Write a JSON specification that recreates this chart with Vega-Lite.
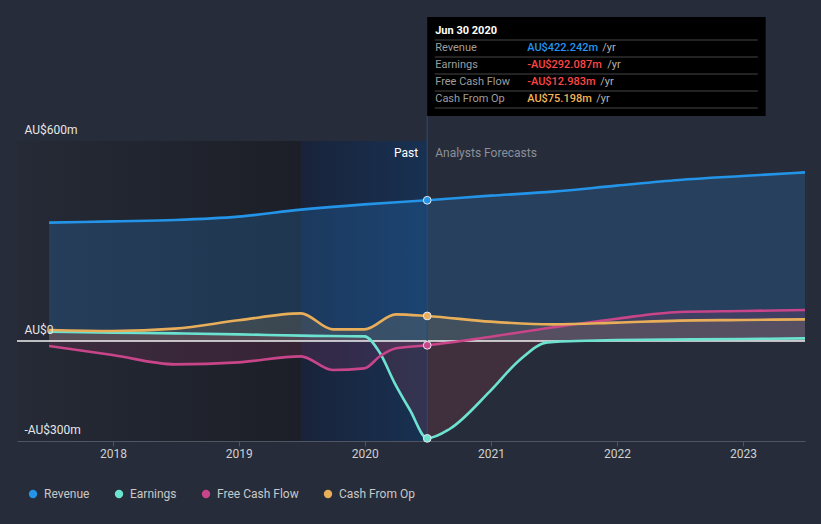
{
  "$schema": "https://vega.github.io/schema/vega-lite/v6.json",
  "width": 788,
  "height": 300,
  "autosize": {"type": "none"},
  "padding": {"left": 17, "top": 141, "right": 16, "bottom": 83},
  "background": "#262c39",
  "config": {
    "font": "Roboto",
    "view": {"stroke": null},
    "axis": {"labelFont": "Roboto", "titleFont": "Roboto"},
    "legend": {"labelFont": "Roboto"}
  },
  "datasets": {
    "series": [
      {"date": "2017-06-30", "series": "Revenue", "value": 355},
      {"date": "2017-12-31", "series": "Revenue", "value": 359},
      {"date": "2018-06-30", "series": "Revenue", "value": 363},
      {"date": "2018-12-31", "series": "Revenue", "value": 373},
      {"date": "2019-06-30", "series": "Revenue", "value": 394},
      {"date": "2019-12-31", "series": "Revenue", "value": 410},
      {"date": "2020-06-30", "series": "Revenue", "value": 422.242},
      {"date": "2020-12-31", "series": "Revenue", "value": 436},
      {"date": "2021-06-30", "series": "Revenue", "value": 448},
      {"date": "2021-12-31", "series": "Revenue", "value": 466},
      {"date": "2022-06-30", "series": "Revenue", "value": 483},
      {"date": "2022-12-31", "series": "Revenue", "value": 495},
      {"date": "2023-06-30", "series": "Revenue", "value": 506},

      {"date": "2017-06-30", "series": "Earnings", "value": 28},
      {"date": "2017-12-31", "series": "Earnings", "value": 25},
      {"date": "2018-06-30", "series": "Earnings", "value": 23},
      {"date": "2018-12-31", "series": "Earnings", "value": 20},
      {"date": "2019-06-30", "series": "Earnings", "value": 16},
      {"date": "2019-12-31", "series": "Earnings", "value": 14},
      {"date": "2020-02-14", "series": "Earnings", "value": -36},
      {"date": "2020-03-28", "series": "Earnings", "value": -127},
      {"date": "2020-05-11", "series": "Earnings", "value": -207},
      {"date": "2020-06-30", "series": "Earnings", "value": -292.087},
      {"date": "2020-09-03", "series": "Earnings", "value": -264},
      {"date": "2020-12-28", "series": "Earnings", "value": -152},
      {"date": "2021-03-25", "series": "Earnings", "value": -57},
      {"date": "2021-06-14", "series": "Earnings", "value": -4},
      {"date": "2021-12-31", "series": "Earnings", "value": 3},
      {"date": "2022-12-31", "series": "Earnings", "value": 6},
      {"date": "2023-06-30", "series": "Earnings", "value": 8},

      {"date": "2017-06-30", "series": "Free Cash Flow", "value": -15},
      {"date": "2017-12-31", "series": "Free Cash Flow", "value": -42},
      {"date": "2018-06-30", "series": "Free Cash Flow", "value": -70},
      {"date": "2018-12-31", "series": "Free Cash Flow", "value": -64},
      {"date": "2019-06-30", "series": "Free Cash Flow", "value": -46},
      {"date": "2019-09-30", "series": "Free Cash Flow", "value": -87},
      {"date": "2019-12-31", "series": "Free Cash Flow", "value": -82},
      {"date": "2020-02-15", "series": "Free Cash Flow", "value": -45},
      {"date": "2020-04-01", "series": "Free Cash Flow", "value": -22},
      {"date": "2020-06-30", "series": "Free Cash Flow", "value": -12.983},
      {"date": "2020-12-31", "series": "Free Cash Flow", "value": 13},
      {"date": "2021-06-30", "series": "Free Cash Flow", "value": 41},
      {"date": "2021-12-31", "series": "Free Cash Flow", "value": 67},
      {"date": "2022-06-30", "series": "Free Cash Flow", "value": 87},
      {"date": "2022-12-31", "series": "Free Cash Flow", "value": 90},
      {"date": "2023-06-30", "series": "Free Cash Flow", "value": 93},

      {"date": "2017-06-30", "series": "Cash From Op", "value": 33},
      {"date": "2017-12-31", "series": "Cash From Op", "value": 30},
      {"date": "2018-06-30", "series": "Cash From Op", "value": 37},
      {"date": "2018-12-31", "series": "Cash From Op", "value": 62},
      {"date": "2019-06-30", "series": "Cash From Op", "value": 83},
      {"date": "2019-09-30", "series": "Cash From Op", "value": 35},
      {"date": "2019-12-31", "series": "Cash From Op", "value": 35},
      {"date": "2020-03-31", "series": "Cash From Op", "value": 80},
      {"date": "2020-06-30", "series": "Cash From Op", "value": 75.198},
      {"date": "2020-12-31", "series": "Cash From Op", "value": 58},
      {"date": "2021-06-30", "series": "Cash From Op", "value": 50},
      {"date": "2021-12-31", "series": "Cash From Op", "value": 55},
      {"date": "2022-06-30", "series": "Cash From Op", "value": 61},
      {"date": "2022-12-31", "series": "Cash From Op", "value": 63},
      {"date": "2023-06-30", "series": "Cash From Op", "value": 65}
    ],
    "current": [
      {"date": "2020-06-30", "series": "Revenue", "value": 422.242},
      {"date": "2020-06-30", "series": "Earnings", "value": -292.087},
      {"date": "2020-06-30", "series": "Free Cash Flow", "value": -12.983},
      {"date": "2020-06-30", "series": "Cash From Op", "value": 75.198}
    ]
  },
  "layer": [
    {
      "data": {"values": [{}]},
      "mark": {"type": "rect", "color": {"gradient": "linear", "x1": 0, "x2": 1, "y1": 0, "y2": 0, "stops": [{"offset": 0, "color": "#252a36"}, {"offset": 1, "color": "#1c1f27"}]}},
      "encoding": {
        "x": {"datum": {"year": 2017, "month": 3, "date": 29, "utc": true}, "type": "temporal",
              "scale": {"type": "utc", "domain": [{"year": 2017, "month": 3, "date": 29, "utc": true}, {"year": 2023, "month": 6, "date": 30, "utc": true}]},
              "axis": {"values": [{"year": 2018, "month": 1, "date": 1, "utc": true}, {"year": 2019, "month": 1, "date": 1, "utc": true}, {"year": 2020, "month": 1, "date": 1, "utc": true}, {"year": 2021, "month": 1, "date": 1, "utc": true}, {"year": 2022, "month": 1, "date": 1, "utc": true}, {"year": 2023, "month": 1, "date": 1, "utc": true}],
                       "format": "%Y", "title": null, "grid": false, "domainColor": "#4f5562", "tickColor": "#4f5562", "tickSize": 5, "labelColor": "#d0d0d0", "labelFontSize": 12, "labelPadding": 2}},
        "x2": {"datum": {"year": 2019, "month": 6, "date": 30, "utc": true}},
        "y": {"datum": 600, "type": "quantitative",
              "scale": {"domain": [-300, 600], "nice": false, "zero": false},
              "axis": {"values": [-300, -200, 0, 200, 400, 600], "title": null, "domain": false, "ticks": false,
                       "labelExpr": "datum.value == 600 ? 'AU$600m' : datum.value == 0 ? 'AU$0' : datum.value == -300 ? '-AU$300m' : ''",
                       "labelAlign": "left", "labelBaseline": "bottom", "labelPadding": -7, "labelOffset": -5,
                       "labelColor": "#e6e6e6", "labelFontSize": 12,
                       "gridColor": {"condition": {"test": "datum.value == 600", "value": "#4b505b"}, "value": "#323845"},
                       "gridOpacity": {"condition": {"test": "datum.value == 0", "value": 0}, "value": 1},
                       "zindex": 1}},
        "y2": {"datum": -300}
      }
    },
    {
      "data": {"values": [{}]},
      "mark": {"type": "rect", "color": {"gradient": "linear", "x1": 0, "x2": 1, "y1": 0, "y2": 0, "stops": [{"offset": 0, "color": "#19233a"}, {"offset": 1, "color": "#183152"}]}},
      "encoding": {
        "x": {"datum": {"year": 2019, "month": 6, "date": 30, "utc": true}, "type": "temporal"},
        "x2": {"datum": {"year": 2020, "month": 6, "date": 30, "utc": true}},
        "y": {"datum": 600, "type": "quantitative"},
        "y2": {"datum": -300}
      }
    },
    {
      "data": {"name": "series"},
      "transform": [{"filter": "datum.series == 'Revenue'"}],
      "mark": {"type": "area", "interpolate": "monotone", "color": "#2a8ee8", "fillOpacity": 0.21},
      "encoding": {
        "x": {"field": "date", "type": "temporal"},
        "y": {"field": "value", "type": "quantitative", "stack": null},
        "y2": {"datum": 0}
      }
    },
    {
      "data": {"name": "series"},
      "transform": [{"filter": "datum.series == 'Earnings'"}],
      "mark": {"type": "area", "interpolate": "monotone", "color": "#d8485a", "fillOpacity": 0.15},
      "encoding": {
        "x": {"field": "date", "type": "temporal"},
        "y": {"field": "value", "type": "quantitative", "stack": null},
        "y2": {"datum": 0}
      }
    },
    {
      "data": {"name": "series"},
      "transform": [{"filter": "datum.series == 'Free Cash Flow'"}],
      "mark": {"type": "area", "interpolate": "monotone", "color": "#c2407f", "fillOpacity": 0.16},
      "encoding": {
        "x": {"field": "date", "type": "temporal"},
        "y": {"field": "value", "type": "quantitative", "stack": null},
        "y2": {"datum": 0}
      }
    },
    {
      "data": {"name": "series"},
      "transform": [{"filter": "datum.series == 'Cash From Op'"}],
      "mark": {"type": "area", "interpolate": "monotone", "color": "#e8ae5b", "fillOpacity": 0.14},
      "encoding": {
        "x": {"field": "date", "type": "temporal"},
        "y": {"field": "value", "type": "quantitative", "stack": null},
        "y2": {"datum": 0}
      }
    },
    {
      "data": {"values": [{}]},
      "mark": {"type": "rule", "color": "#f0f0f0", "strokeWidth": 1.3},
      "encoding": {"y": {"datum": 0, "type": "quantitative"}}
    },
    {
      "data": {"values": [{}]},
      "mark": {"type": "rule", "color": "#2c4a72", "strokeWidth": 1},
      "encoding": {
        "x": {"datum": {"year": 2020, "month": 6, "date": 30, "utc": true}, "type": "temporal"},
        "y": {"datum": 675, "type": "quantitative"},
        "y2": {"datum": -300}
      }
    },
    {
      "data": {"name": "series"},
      "mark": {"type": "line", "interpolate": "monotone", "strokeWidth": 2.6},
      "encoding": {
        "x": {"field": "date", "type": "temporal"},
        "y": {"field": "value", "type": "quantitative"},
        "color": {"field": "series", "type": "nominal",
                  "scale": {"domain": ["Revenue", "Earnings", "Free Cash Flow", "Cash From Op"], "range": ["#2394e8", "#6be3d0", "#c8458a", "#e9ae5a"]},
                  "legend": {"title": null, "orient": "none", "legendX": 10, "legendY": 347, "direction": "horizontal", "columns": 4,
                             "columnPadding": 23, "symbolType": "circle", "symbolSize": 70, "labelOffset": 5, "labelFontSize": 12,
                             "labelColor": "#c8c8c8", "padding": 0,
                             "symbolFillColor": "#888888", "symbolStrokeWidth": 0,
                             "encode": {"symbols": {"update": {"fill": {"scale": "color", "field": "value"}, "opacity": {"value": 1}}}}}}
      }
    },
    {
      "data": {"name": "current"},
      "mark": {"type": "point", "filled": true, "size": 60, "stroke": "#e8e8f0", "strokeWidth": 1, "opacity": 1},
      "encoding": {
        "x": {"field": "date", "type": "temporal"},
        "y": {"field": "value", "type": "quantitative"},
        "color": {"field": "series", "type": "nominal"}
      }
    },
    {
      "data": {"values": [{}]},
      "mark": {"type": "text", "text": "Past", "align": "right", "baseline": "middle", "dx": -9, "color": "#ffffff", "fontSize": 12},
      "encoding": {
        "x": {"datum": {"year": 2020, "month": 6, "date": 30, "utc": true}, "type": "temporal"},
        "y": {"datum": 564, "type": "quantitative"}
      }
    },
    {
      "data": {"values": [{}]},
      "mark": {"type": "text", "text": "Analysts Forecasts", "align": "left", "baseline": "middle", "dx": 8, "color": "#8b909a", "fontSize": 12},
      "encoding": {
        "x": {"datum": {"year": 2020, "month": 6, "date": 30, "utc": true}, "type": "temporal"},
        "y": {"datum": 564, "type": "quantitative"}
      }
    },
    {
      "data": {"values": [{}]},
      "mark": {"type": "rect", "color": "#000000"},
      "encoding": {
        "x": {"datum": {"year": 2020, "month": 6, "date": 30, "utc": true}, "type": "temporal"},
        "x2": {"datum": {"year": 2023, "month": 3, "date": 8, "utc": true}},
        "y": {"datum": 972, "type": "quantitative"},
        "y2": {"datum": 675}
      }
    },
    {"data": {"values": [{}]}, "mark": {"type": "rule", "color": "#474747", "strokeWidth": 1},
     "encoding": {"x": {"datum": {"year": 2020, "month": 7, "date": 22, "utc": true}, "type": "temporal"}, "x2": {"datum": {"year": 2023, "month": 2, "date": 13, "utc": true}}, "y": {"datum": 903, "type": "quantitative"}}},
    {"data": {"values": [{}]}, "mark": {"type": "rule", "color": "#474747", "strokeWidth": 1},
     "encoding": {"x": {"datum": {"year": 2020, "month": 7, "date": 22, "utc": true}, "type": "temporal"}, "x2": {"datum": {"year": 2023, "month": 2, "date": 13, "utc": true}}, "y": {"datum": 852, "type": "quantitative"}}},
    {"data": {"values": [{}]}, "mark": {"type": "rule", "color": "#474747", "strokeWidth": 1},
     "encoding": {"x": {"datum": {"year": 2020, "month": 7, "date": 22, "utc": true}, "type": "temporal"}, "x2": {"datum": {"year": 2023, "month": 2, "date": 13, "utc": true}}, "y": {"datum": 801, "type": "quantitative"}}},
    {"data": {"values": [{}]}, "mark": {"type": "rule", "color": "#474747", "strokeWidth": 1},
     "encoding": {"x": {"datum": {"year": 2020, "month": 7, "date": 22, "utc": true}, "type": "temporal"}, "x2": {"datum": {"year": 2023, "month": 2, "date": 13, "utc": true}}, "y": {"datum": 750, "type": "quantitative"}}},
    {"data": {"values": [{}]}, "mark": {"type": "rule", "color": "#474747", "strokeWidth": 1},
     "encoding": {"x": {"datum": {"year": 2020, "month": 7, "date": 22, "utc": true}, "type": "temporal"}, "x2": {"datum": {"year": 2023, "month": 2, "date": 13, "utc": true}}, "y": {"datum": 699, "type": "quantitative"}}},
    {"data": {"values": [{}]}, "mark": {"type": "text", "text": "Jun 30 2020", "align": "left", "baseline": "middle", "dx": 8, "color": "#ffffff", "fontSize": 11, "fontWeight": "bold"},
     "encoding": {"x": {"datum": {"year": 2020, "month": 6, "date": 30, "utc": true}, "type": "temporal"}, "y": {"datum": 930, "type": "quantitative"}}},
    {"data": {"values": [{}]}, "mark": {"type": "text", "text": "Revenue", "align": "left", "baseline": "middle", "dx": 8, "color": "#9e9e9e", "fontSize": 11},
     "encoding": {"x": {"datum": {"year": 2020, "month": 6, "date": 30, "utc": true}, "type": "temporal"}, "y": {"datum": 879, "type": "quantitative"}}},
    {"data": {"values": [{}]}, "mark": {"type": "text", "text": "Earnings", "align": "left", "baseline": "middle", "dx": 8, "color": "#9e9e9e", "fontSize": 11},
     "encoding": {"x": {"datum": {"year": 2020, "month": 6, "date": 30, "utc": true}, "type": "temporal"}, "y": {"datum": 828, "type": "quantitative"}}},
    {"data": {"values": [{}]}, "mark": {"type": "text", "text": "Free Cash Flow", "align": "left", "baseline": "middle", "dx": 8, "color": "#9e9e9e", "fontSize": 11},
     "encoding": {"x": {"datum": {"year": 2020, "month": 6, "date": 30, "utc": true}, "type": "temporal"}, "y": {"datum": 777, "type": "quantitative"}}},
    {"data": {"values": [{}]}, "mark": {"type": "text", "text": "Cash From Op", "align": "left", "baseline": "middle", "dx": 8, "color": "#9e9e9e", "fontSize": 11},
     "encoding": {"x": {"datum": {"year": 2020, "month": 6, "date": 30, "utc": true}, "type": "temporal"}, "y": {"datum": 726, "type": "quantitative"}}},
    {"data": {"values": [{}]}, "mark": {"type": "text", "text": "AU$422.242m", "align": "left", "baseline": "middle", "dx": 100, "color": "#2394f0", "fontSize": 11, "fontWeight": 500},
     "encoding": {"x": {"datum": {"year": 2020, "month": 6, "date": 30, "utc": true}, "type": "temporal"}, "y": {"datum": 879, "type": "quantitative"}}},
    {"data": {"values": [{}]}, "mark": {"type": "text", "text": "-AU$292.087m", "align": "left", "baseline": "middle", "dx": 100, "color": "#ff4646", "fontSize": 11, "fontWeight": 500},
     "encoding": {"x": {"datum": {"year": 2020, "month": 6, "date": 30, "utc": true}, "type": "temporal"}, "y": {"datum": 828, "type": "quantitative"}}},
    {"data": {"values": [{}]}, "mark": {"type": "text", "text": "-AU$12.983m", "align": "left", "baseline": "middle", "dx": 100, "color": "#ff4646", "fontSize": 11, "fontWeight": 500},
     "encoding": {"x": {"datum": {"year": 2020, "month": 6, "date": 30, "utc": true}, "type": "temporal"}, "y": {"datum": 777, "type": "quantitative"}}},
    {"data": {"values": [{}]}, "mark": {"type": "text", "text": "AU$75.198m", "align": "left", "baseline": "middle", "dx": 100, "color": "#f2b557", "fontSize": 11, "fontWeight": 500},
     "encoding": {"x": {"datum": {"year": 2020, "month": 6, "date": 30, "utc": true}, "type": "temporal"}, "y": {"datum": 726, "type": "quantitative"}}},
    {"data": {"values": [{}]}, "mark": {"type": "text", "text": "/yr", "align": "left", "baseline": "middle", "dx": 175, "color": "#b4b4b4", "fontSize": 11},
     "encoding": {"x": {"datum": {"year": 2020, "month": 6, "date": 30, "utc": true}, "type": "temporal"}, "y": {"datum": 879, "type": "quantitative"}}},
    {"data": {"values": [{}]}, "mark": {"type": "text", "text": "/yr", "align": "left", "baseline": "middle", "dx": 180, "color": "#b4b4b4", "fontSize": 11},
     "encoding": {"x": {"datum": {"year": 2020, "month": 6, "date": 30, "utc": true}, "type": "temporal"}, "y": {"datum": 828, "type": "quantitative"}}},
    {"data": {"values": [{}]}, "mark": {"type": "text", "text": "/yr", "align": "left", "baseline": "middle", "dx": 173, "color": "#b4b4b4", "fontSize": 11},
     "encoding": {"x": {"datum": {"year": 2020, "month": 6, "date": 30, "utc": true}, "type": "temporal"}, "y": {"datum": 777, "type": "quantitative"}}},
    {"data": {"values": [{}]}, "mark": {"type": "text", "text": "/yr", "align": "left", "baseline": "middle", "dx": 169, "color": "#b4b4b4", "fontSize": 11},
     "encoding": {"x": {"datum": {"year": 2020, "month": 6, "date": 30, "utc": true}, "type": "temporal"}, "y": {"datum": 726, "type": "quantitative"}}}
  ]
}
